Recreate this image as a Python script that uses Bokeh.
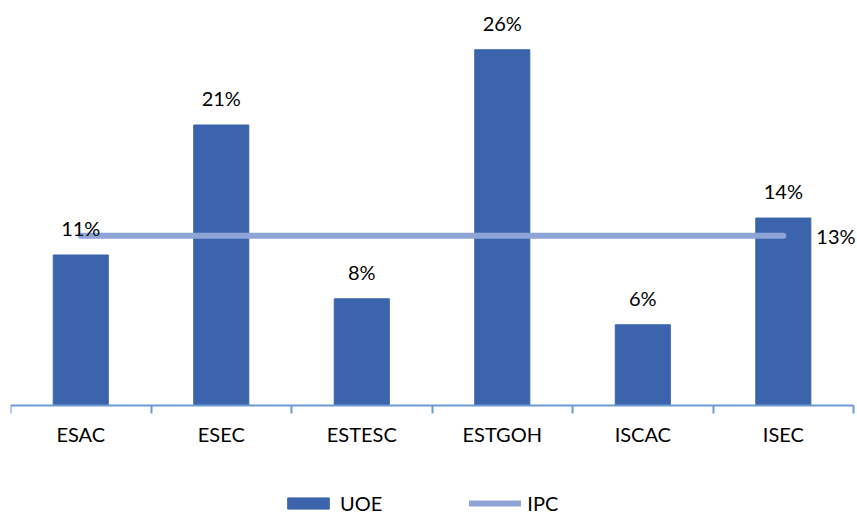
from bokeh.plotting import figure
from bokeh.models import Range1d, FixedTicker, Legend, LegendItem
from bokeh.core.properties import value
from bokeh.embed import file_html
from bokeh.resources import INLINE

categories = ["ESAC", "ESEC", "ESTESC", "ESTGOH", "ISCAC", "ISEC"]
uoe_values = [11.0, 20.5, 7.8, 26.0, 5.9, 13.7]
uoe_labels = ["11%", "21%", "8%", "26%", "6%", "14%"]
ipc_values = [12.4, 12.4, 12.4, 12.4, 12.4, 12.4]
ipc_label = "13%"

BAR = "#3C64AD"
LINE = "#8FA4D6"
AXIS = "#6C9BD4"
FONT = "Lato"
FS = "20px"

xs = [i + 0.5 for i in range(len(categories))]

p = figure(width=857, height=515, output_backend="svg", toolbar_location=None,
           x_range=Range1d(0, 6.028), y_range=Range1d(-8.04, 29.6),
           min_border_left=10, min_border_right=0, min_border_top=0,
           min_border_bottom=0)

bars = p.vbar(x=xs, top=uoe_values, width=0.392, fill_color=BAR, line_color=BAR)
line = p.line(x=xs, y=ipc_values, line_width=6, line_color=LINE, line_cap="round")

p.text(x=xs, y=uoe_values, text=uoe_labels, text_align="center", text_baseline="bottom",
       y_offset=-15, text_font=value(FONT), text_font_size=FS, text_color="black")
p.text(x=[xs[-1]], y=[ipc_values[-1]], text=[ipc_label], text_align="left",
       text_baseline="middle", x_offset=33, text_font=value(FONT),
       text_font_size=FS, text_color="black")

ax = p.xaxis[0]
ax.fixed_location = 0
ax.ticker = FixedTicker(ticks=xs, minor_ticks=list(range(len(categories) + 1)))
ax.major_label_overrides = {x: c for x, c in zip(xs, categories)}
ax.bounds = (0, len(categories))
ax.axis_line_color = AXIS
ax.axis_line_width = 2
ax.major_tick_out = 0
ax.major_tick_in = 0
ax.minor_tick_out = 8
ax.minor_tick_in = 0
ax.minor_tick_line_color = AXIS
ax.minor_tick_line_width = 2
ax.major_label_standoff = 9
ax.major_label_text_font = FONT
ax.major_label_text_font_size = FS
ax.major_label_text_color = "black"

p.yaxis.visible = False
p.xgrid.grid_line_color = None
p.ygrid.grid_line_color = None
p.outline_line_color = None

legend = Legend(items=[LegendItem(label="UOE", renderers=[bars]),
                       LegendItem(label="IPC", renderers=[line])],
                orientation="horizontal", location=(272, 0),
                glyph_width=52, glyph_height=14, label_standoff=6, spacing=87,
                padding=0, margin=0, border_line_alpha=0, background_fill_alpha=0,
                label_text_font=FONT, label_text_font_size=FS,
                label_text_color="black")
p.add_layout(legend, "center")

open("out.html", "w").write(file_html(p, INLINE))
